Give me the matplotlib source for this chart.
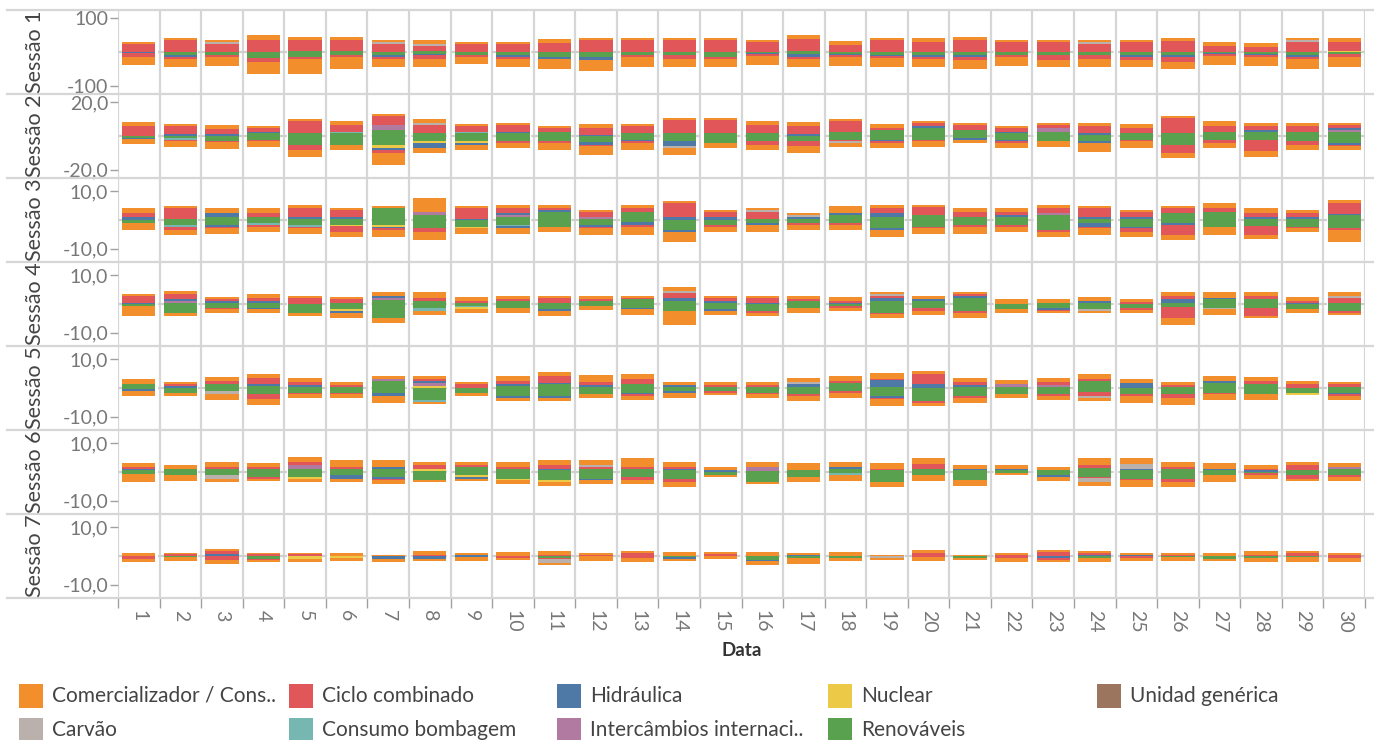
import numpy as np
import matplotlib
matplotlib.use('Agg')
import matplotlib.pyplot as plt
from matplotlib.patches import Rectangle
from matplotlib.lines import Line2D

plt.rcParams['font.family'] = ['Lato', 'DejaVu Sans']

days = list(range(1, 31))
sessions = ['Sessão 1', 'Sessão 2', 'Sessão 3', 'Sessão 4', 'Sessão 5', 'Sessão 6', 'Sessão 7']

# main series, one list of 30 days per session (values above / below zero)
orange_pos = [
    [6, 6, 6, 13, 9, 7, 6, 12, 6, 6, 12, 6, 6, 6, 6, 6, 12, 12, 6, 12, 9, 6, 6, 6, 6, 9, 12, 12, 6, 12],
    [2.4, 1.2, 2.4, 1.2, 1.2, 2.4, 1.2, 2.4, 1.2, 1.2, 1.2, 2.4, 1.2, 1.2, 1.2, 2.4, 2.4, 1.2, 2.4, 1.2, 1.2, 1.2, 1.2, 1.8, 2.4, 1.2, 3.0, 1.8, 1.8, 1.2],
    [1.5, 0.7, 1.7, 1.7, 1.0, 0.7, 0.7, 4.9, 0.7, 1.0, 1.0, 0.7, 1.0, 0.7, 0.7, 0.7, 0.7, 2.4, 1.0, 0.7, 1.4, 1.4, 1.0, 0.7, 0.7, 1.0, 1.7, 1.7, 1.0, 1.0],
    [0.7, 1.0, 0.7, 1.4, 0.7, 0.7, 1.4, 2.1, 1.4, 1.0, 0.7, 1.0, 0.7, 1.4, 0.7, 0.7, 1.0, 1.4, 0.7, 1.0, 0.7, 1.7, 1.4, 1.4, 1.0, 1.4, 2.1, 1.4, 1.4, 1.4],
    [1.7, 0.7, 1.4, 1.4, 1.4, 1.0, 1.0, 1.0, 0.7, 1.7, 1.7, 2.4, 1.7, 1.0, 1.0, 1.0, 1.4, 1.7, 2.1, 1.0, 1.4, 1.4, 1.4, 1.4, 1.4, 1.0, 1.7, 1.4, 1.0, 0.7],
    [1.4, 1.3, 1.7, 1.4, 1.7, 2.4, 2.4, 1.0, 1.0, 1.7, 1.7, 1.7, 3.1, 1.7, 1.0, 1.7, 2.4, 1.7, 2.1, 2.1, 1.4, 1.4, 1.0, 2.4, 2.1, 1.7, 2.1, 1.4, 1.0, 1.4],
    [1.2, 0.6, 0.7, 0.6, 0.6, 1.2, 0.5, 1.4, 0.7, 1.4, 1.4, 0.7, 0.7, 1.4, 0.7, 1.4, 0.7, 1.4, 0.3, 1.0, 0.3, 0.7, 0.7, 0.7, 0.7, 0.7, 1.0, 1.4, 0.7, 0.7],
]
orange_neg = [
    [22, 24, 27, 33, 42, 36, 24, 24, 21, 24, 30, 34, 30, 24, 24, 27, 24, 27, 27, 24, 27, 27, 21, 24, 21, 21, 27, 27, 30, 30],
    [2.8, 3.4, 4.0, 3.6, 4.0, 3.0, 7.2, 3.0, 3.0, 2.8, 4.2, 5.2, 4.2, 4.2, 2.8, 3.0, 4.0, 2.4, 2.8, 3.6, 1.8, 2.8, 3.6, 5.4, 4.0, 3.0, 3.0, 3.6, 3.0, 2.4],
    [2.4, 1.7, 2.1, 1.7, 2.1, 1.7, 2.4, 2.8, 2.1, 2.1, 1.7, 2.4, 2.8, 3.5, 1.7, 2.4, 1.7, 1.7, 2.4, 2.1, 2.4, 1.7, 1.7, 2.4, 1.7, 1.7, 2.8, 1.4, 1.4, 4.2],
    [3.4, 0.7, 1.4, 1.4, 0.7, 1.4, 1.7, 1.4, 1.4, 1.7, 1.7, 1.4, 2.1, 4.9, 1.4, 1.0, 1.7, 1.0, 1.4, 1.4, 1.7, 1.4, 0.7, 0.7, 1.0, 2.4, 2.1, 0.7, 1.4, 0.7],
    [1.7, 1.0, 2.1, 2.1, 1.4, 1.4, 2.4, 0.7, 1.0, 1.0, 1.0, 1.4, 1.4, 1.7, 0.7, 1.4, 1.7, 1.7, 2.4, 1.0, 1.7, 1.4, 1.4, 1.0, 2.4, 2.4, 2.1, 2.1, 0.0, 1.4],
    [2.9, 2.1, 1.0, 0.7, 1.0, 1.0, 1.4, 0.7, 0.7, 1.4, 1.4, 1.4, 1.4, 1.7, 0.7, 0.7, 1.7, 2.1, 1.7, 2.1, 2.1, 0.7, 1.4, 1.4, 2.4, 1.7, 2.4, 1.4, 0.7, 1.4],
    [1.2, 1.4, 1.3, 0.7, 1.0, 1.0, 1.0, 0.7, 1.4, 0.7, 0.7, 1.7, 1.4, 0.7, 1.2, 1.4, 2.1, 1.2, 0.7, 1.4, 0.7, 1.4, 0.7, 1.4, 1.0, 1.4, 0.7, 1.4, 1.7, 1.4],
]
red_pos = [
    [23, 35, 23, 35, 32, 32, 23, 14, 23, 23, 27, 35, 35, 35, 35, 29, 35, 20, 35, 29, 35, 29, 29, 23, 29, 32, 17, 14, 29, 26],
    [6.0, 4.8, 3.0, 2.4, 7.2, 4.2, 5.4, 4.8, 3.6, 4.2, 2.4, 4.2, 4.2, 7.8, 7.8, 4.8, 4.8, 6.6, 1.2, 1.8, 3.0, 2.4, 1.8, 4.2, 3.0, 9.0, 3.6, 2.4, 3.6, 1.8],
    [1.6, 3.8, 0, 1.4, 3.1, 2.4, 0, 0, 3.8, 1.7, 0.7, 1.7, 1.4, 4.9, 1.7, 2.4, 0, 0, 1.7, 2.8, 1.7, 1.0, 1.7, 3.1, 1.7, 1.4, 1.4, 1.4, 1.4, 3.8],
    [2.3, 1.7, 0.7, 1.0, 2.1, 1.4, 0, 1.0, 0.7, 0.7, 1.7, 0.7, 0.3, 1.7, 1.0, 1.7, 0.7, 0.7, 0.7, 0, 0.7, 0, 0, 0, 0.7, 1.0, 0, 1.0, 0.7, 1.7],
    [0, 0.7, 1.0, 2.1, 1.0, 0.7, 0, 0.7, 1.4, 1.0, 2.4, 1.0, 1.7, 0, 0.7, 0.7, 0, 0.7, 0.3, 3.5, 1.0, 0, 1.0, 1.0, 0, 0.7, 0, 1.0, 1.4, 1.0],
    [0.7, 0, 0.7, 0.7, 1.0, 0.7, 0, 1.4, 0.7, 0.7, 1.4, 0.7, 0.7, 0.7, 0, 0, 0, 0, 0.3, 1.7, 0, 0, 0, 1.0, 0, 0.7, 0, 0.3, 1.7, 0],
    [0, 0.6, 1.0, 0.6, 0.6, 0, 0, 0.5, 0, 0, 0.3, 0.3, 1.0, 0, 0.6, 0, 0, 0, 0, 1.0, 0, 0.3, 1.4, 0.7, 0, 0.3, 0, 0.3, 1.0, 0.3],
]
red_neg = [
    [12, 7, 6, 14, 7, 6, 7, 12, 6, 6, 0, 0, 6, 12, 6, 6, 6, 6, 6, 6, 9, 6, 15, 12, 9, 15, 6, 6, 6, 9],
    [0, 0.6, 0.6, 0.6, 3.0, 0, 1.6, 0, 0, 1.2, 1.2, 0.6, 1.2, 0, 0, 2.4, 3.0, 0.6, 1.2, 0.6, 0, 1.2, 0, 0, 0.6, 4.8, 1.8, 6.6, 2.4, 0.6],
    [0, 1.0, 0.3, 0.7, 0.3, 2.1, 0.7, 1.4, 0, 0, 0, 0.3, 0.7, 0, 0.7, 0, 0.7, 0.7, 0, 0.3, 0.7, 0.7, 0.7, 0.3, 1.4, 3.5, 0, 3.1, 0.3, 0.7],
    [0, 0.3, 0.3, 0, 0, 0.3, 0, 0, 0, 0, 0, 0, 0, 0, 0, 0.7, 0, 0.7, 0.3, 1.0, 0.7, 0, 0.3, 0, 0.7, 3.8, 0, 2.8, 0, 0.7],
    [0, 0, 0, 1.7, 0.3, 0.3, 0, 0, 0, 0, 0, 0, 0.7, 0, 0.7, 0.3, 0.7, 0.7, 0.3, 0.7, 0.7, 0, 0.7, 1.4, 0.7, 1.4, 0.3, 0, 0, 0.7],
    [0, 0, 0, 0.7, 0, 0, 0.3, 0, 0, 0, 0, 0, 1.0, 1.0, 0, 0, 0, 0, 0, 0, 0, 0, 0, 0.3, 0.3, 1.0, 0, 0.7, 1.4, 0.7],
    [1.0, 0, 1.4, 0.3, 0, 0, 0, 0, 0, 0.7, 0.3, 0, 0.7, 0, 0, 0, 0, 0, 0, 0.3, 0, 0.7, 0.7, 0, 0.7, 0, 0, 0, 0, 0.7],
]
green_pos = [
    [0, 0, 0, 0, 3, 3, 0, 3, 0, 0, 0, 0, 0, 0, 0, 0, 3, 0, 0, 0, 0, 0, 0, 0, 0, 0, 0, 0, 0, 0],
    [0, 0, 0, 1.6, 1.6, 1.6, 3.6, 1.6, 1.8, 1.8, 2.4, 0, 1.8, 1.8, 1.8, 1.8, 0, 2.4, 3.6, 4.8, 3.6, 1.8, 2.4, 0.6, 1.8, 1.8, 2.4, 2.4, 2.4, 2.4],
    [0, 0.3, 1.0, 1.0, 0.3, 0.3, 4.2, 1.7, 0, 1.0, 2.8, 0.3, 2.8, 0, 0, 0.3, 0.3, 1.7, 1.0, 1.7, 1.0, 1.0, 1.7, 0.3, 0.3, 2.4, 2.8, 0.3, 0.3, 1.7],
    [0, 0.3, 0.3, 0.3, 0, 0.3, 1.4, 1.0, 0.3, 1.0, 0.3, 1.0, 1.7, 1.0, 0.3, 0, 1.0, 0, 1.0, 1.0, 2.1, 0, 0.3, 0.3, 0, 0.3, 1.7, 1.7, 0, 0.3],
    [1.3, 0, 1.3, 0.6, 0.3, 0.3, 2.3, 0, 0, 0.6, 1.3, 0.3, 1.3, 0.3, 0.3, 0.3, 0.3, 1.6, 0.3, 0, 0.3, 0.3, 0.3, 2.3, 0, 0.3, 1.6, 1.3, 0, 0.3],
    [0.6, 1.0, 1.0, 1.0, 1.0, 1.0, 1.0, 0.3, 1.7, 1.0, 0.7, 1.0, 1.0, 0.7, 0, 0.3, 0.7, 1.0, 0.7, 1.0, 0.7, 0.7, 0.7, 1.4, 0.7, 1.0, 0.7, 0, 0.7, 1.0],
    [0] * 30,
]
green_neg = [
    [0, 10, 10, 17, 15, 10, 10, 5, 10, 10, 16, 16, 10, 10, 16, 3, 5, 7, 8, 10, 10, 10, 10, 10, 10, 10, 3, 7, 10, 7],
    [1.2, 1.2, 3.0, 2.4, 5.4, 5.4, 5.4, 3.0, 3.0, 3.0, 3.0, 3.6, 2.4, 3.0, 4.2, 3.0, 3.0, 2.4, 2.4, 2.4, 1.2, 2.4, 3.0, 3.0, 2.4, 5.4, 2.4, 2.4, 3.0, 4.2],
    [1.0, 1.7, 1.7, 1.0, 1.7, 1.7, 1.7, 2.8, 2.4, 1.7, 2.4, 1.7, 0.7, 3.5, 1.7, 1.0, 1.0, 1.0, 2.8, 2.4, 1.7, 1.7, 3.5, 1.0, 2.4, 1.0, 2.4, 2.1, 2.4, 2.8],
    [0.7, 3.0, 1.3, 1.3, 3.0, 1.6, 4.8, 1.3, 0.7, 1.4, 1.7, 0.7, 1.4, 2.4, 1.7, 2.4, 1.4, 0.7, 3.1, 1.4, 2.4, 1.7, 1.4, 1.7, 1.4, 1.0, 1.4, 1.4, 1.7, 2.4],
    [0.5, 1.9, 1.2, 2.2, 1.9, 1.9, 1.9, 4.0, 1.7, 2.9, 2.9, 2.2, 1.9, 1.2, 1.2, 1.9, 2.2, 1.2, 2.9, 4.6, 2.9, 2.2, 2.2, 1.5, 2.2, 2.2, 1.9, 2.2, 1.7, 1.9],
    [0.6, 1.0, 1.0, 1.7, 1.7, 1.0, 1.7, 2.8, 1.0, 2.4, 2.8, 2.4, 1.7, 2.4, 1.0, 3.5, 1.7, 0.3, 3.5, 1.0, 2.8, 0.4, 1.0, 1.7, 2.4, 2.4, 1.0, 0.3, 1.0, 1.0],
    [0, 0.3, 0, 1.0, 0, 0, 0, 0, 0, 0, 0.7, 0, 0, 0.3, 0, 1.4, 0.7, 0.6, 0, 0, 0.7, 0, 0, 0.7, 0, 0.3, 1.0, 0.7, 0.3, 0],
]
blue_pos = [
    [0] * 30,
    [0, 1.2, 1.2, 0.6, 0, 0, 0, 0, 0, 0.6, 0, 0.6, 0, 0, 0, 0, 1.2, 0, 0, 1.2, 0, 0.6, 0, 1.2, 0, 0, 0, 1.2, 0, 1.2],
    [1.0, 0, 1.4, 0, 0.7, 0.7, 0, 0, 0.3, 0.7, 0.7, 0, 0, 1.0, 1.0, 0, 0.7, 0.7, 1.4, 0, 0, 0.7, 0, 0.7, 0.7, 0.2, 0, 0.7, 0.7, 0.3],
    [0.5, 0.7, 0.7, 0.7, 0, 0, 0.7, 0, 0, 0, 0, 0, 0, 1.0, 0.7, 0.3, 0, 0.3, 1.0, 0.7, 0.7, 0, 0, 0.7, 0, 1.4, 0.3, 0, 0.3, 0],
    [0, 0.7, 0, 0.7, 0.7, 0, 0, 0.7, 0, 0.7, 0.3, 0.7, 0, 0.7, 0, 0, 1.0, 0, 2.4, 1.3, 0.7, 0, 0, 0, 1.6, 0, 0.7, 0, 0, 0],
    [0.4, 0, 0, 0, 0, 0, 0.7, 0, 0, 0, 0.3, 0, 0, 0.3, 0.7, 0, 0, 0.7, 0, 0, 0.3, 0.3, 0, 0, 0.3, 0, 0.3, 0.7, 0, 0],
    [0, 0, 0.6, 0, 0, 0, 0, 0, 0.3, 0, 0, 0, 0, 0, 0, 0, 0.3, 0, 0, 0, 0, 0, 0, 0.3, 0.3, 0, 0, 0, 0, 0],
]
blue_neg = [
    [4, 4, 0, 0, 0, 0, 5, 5, 0, 6, 6, 8, 0, 0, 0, 4, 11, 3, 4, 6, 6, 0, 0, 0, 5, 6, 4, 3, 6, 0],
    [0.8, 0, 0, 0, 0, 0, 1.4, 2.8, 1.2, 0, 0, 1.8, 0.6, 3.0, 0, 0, 0, 0, 0.6, 0, 1.2, 0.6, 0, 1.2, 0, 0, 0, 0, 0, 1.2],
    [0, 0, 0.7, 0, 0, 0, 0.3, 0, 0, 0.7, 0, 0.7, 1.0, 0.7, 0, 0.7, 0, 0, 0.7, 0, 0, 0, 0, 1.4, 0.3, 0.7, 0, 0, 0, 0],
    [0, 0, 0, 0.3, 0.3, 0.7, 0, 0, 0, 0, 0.7, 0, 0.3, 0, 0.7, 0, 0, 0, 0, 0, 0, 0, 0.7, 0, 0, 0, 0, 0, 0, 0],
    [0.7, 0, 0, 0, 0, 0, 1.0, 0, 0, 0.7, 0.7, 0, 0.3, 0.7, 0, 0, 0, 0, 0.7, 0, 0, 0, 0, 0, 0, 0, 0, 0, 0, 0.3],
    [0, 0, 0, 0, 0, 1.4, 0.7, 0, 0.7, 0, 0, 0.3, 0, 0, 0, 0, 0, 0, 0, 0, 0, 0, 0.7, 0, 0, 0, 0, 0, 0, 0],
    [0, 0, 0, 0, 0, 0, 1.0, 1.0, 0.3, 0, 0, 0, 0, 0.7, 0, 0.3, 0, 0, 0, 0, 0, 0, 0.7, 0, 0, 0, 0, 0, 0, 0],
]

# small categories, sparse: (session, day) -> signed value
carvao = {(1, 3): 6, (1, 4): 2, (1, 6): 2, (1, 7): 6, (1, 8): 6, (1, 24): 6, (1, 29): 6,
          (2, 8): 1.2, (2, 14): -1.0, (2, 18): -1.2, (3, 16): 0.7, (3, 17): 0.7,
          (4, 14): 0.7, (4, 19): 0.7, (4, 24): -0.7, (4, 27): -0.3, (4, 30): 0.7,
          (5, 3): -1.0, (5, 17): 0.7, (5, 24): -0.7, (6, 3): -1.4, (6, 12): 0.7,
          (6, 24): -1.4, (6, 25): 1.7, (7, 11): -1.4, (7, 19): -0.7}
intercambios = {(2, 7): 3.0, (2, 23): 2.4, (2, 30): 1.2, (3, 8): 1.0, (3, 10): 0.7, (3, 12): 0.7,
                (3, 23): 0.7, (4, 2): 0.7, (4, 7): 0.7, (5, 7): 0.7, (5, 8): 1.0, (5, 22): 1.0,
                (5, 23): 0.7, (6, 5): 1.4, (6, 16): 1.4, (6, 30): 0.7}
nuclear = {(1, 30): 3, (2, 7): -1.6, (2, 8): -1.2, (2, 9): -1.2, (3, 6): -0.3, (3, 7): -0.7,
           (3, 9): -0.3, (4, 6): -0.7, (4, 9): -0.7, (5, 8): 0.6, (5, 29): -0.7, (6, 5): -0.7,
           (6, 8): 0.7, (6, 9): -0.7, (6, 10): -0.3, (6, 11): -0.7, (7, 5): -1.0, (7, 6): -0.7}
bombagem = {(2, 2): -1.4, (2, 6): 0.6, (2, 9): 0.6, (3, 2): -0.7, (3, 4): -0.7, (3, 5): -0.7,
            (3, 10): -0.3, (4, 8): -1.0, (4, 9): -0.3, (5, 8): -0.7, (6, 18): -0.7}

ylims = [125, 25, 14.6, 14.6, 14.6, 14.6, 14.6]
yticks = [100, 20, 10, 10, 10, 10, 10]
ytick_text = ['100', '20,0', '10,0', '10,0', '10,0', '10,0', '10,0']

colors = {
    'orange': '#f28e2b', 'red': '#e15759', 'blue': '#4e79a7', 'yellow': '#edc948',
    'brown': '#9c755f', 'gray': '#bab0ac', 'teal': '#76b7b2', 'purple': '#b07aa1',
    'green': '#59a14f',
}


def sparse_to_arrays(d, s):
    pos = np.zeros(30)
    neg = np.zeros(30)
    for (ss, day), v in d.items():
        if ss == s + 1:
            if v > 0:
                pos[day - 1] += v
            else:
                neg[day - 1] += -v
    return pos, neg


W_FIG, H_FIG = 1374, 740
fig = plt.figure(figsize=(W_FIG / 100, H_FIG / 100), dpi=100)
left, right, top, row_h = 118, 1365, 10, 84
x = np.array(days)

for s in range(7):
    ax = fig.add_axes([left / W_FIG, 1 - (top + row_h * (s + 1)) / H_FIG,
                       (right - left) / W_FIG, row_h / H_FIG])
    gray_p, gray_n = sparse_to_arrays(carvao, s)
    pur_p, pur_n = sparse_to_arrays(intercambios, s)
    yel_p, yel_n = sparse_to_arrays(nuclear, s)
    teal_p, teal_n = sparse_to_arrays(bombagem, s)
    stack = [
        ('green', green_pos[s], green_neg[s]),
        ('teal', teal_p, teal_n),
        ('yellow', yel_p, yel_n),
        ('purple', pur_p, pur_n),
        ('blue', blue_pos[s], blue_neg[s]),
        ('red', red_pos[s], red_neg[s]),
        ('gray', gray_p, gray_n),
        ('orange', orange_pos[s], orange_neg[s]),
    ]
    bp = np.zeros(30)
    bn = np.zeros(30)
    for name, p, n in stack:
        p = np.asarray(p, dtype=float)
        n = np.asarray(n, dtype=float)
        ax.bar(x, p, bottom=bp, width=0.8, color=colors[name], linewidth=0, zorder=3)
        ax.bar(x, -n, bottom=-bn, width=0.8, color=colors[name], linewidth=0, zorder=3)
        bp += p
        bn += n

    ax.axhline(0, color='#cfcfcf', lw=1.6, ls=(0, (4, 2)), zorder=1)
    for b in np.arange(0.5, 31, 1):
        ax.axvline(b, color='#d6d6d6', lw=1.6, zorder=0)
    ax.set_xlim(0.5, 30.5)
    ax.set_ylim(-ylims[s], ylims[s])
    ax.set_yticks([-yticks[s], yticks[s]])
    ax.set_yticklabels(['-' + ytick_text[s], ytick_text[s]])
    ax.tick_params(axis='y', direction='out', length=6, width=1, color='#a0a0a0',
                   labelcolor='#777777', labelsize=14, pad=1)
    for sp in ax.spines.values():
        sp.set_visible(False)
    ax.set_facecolor('none')
    if s < 6:
        ax.set_xticks([])
    else:
        ax.set_xticks(x)
        ax.set_xticklabels([str(d) for d in days], rotation=-90, fontsize=14,
                           color='#777777')
        ax.tick_params(axis='x', length=0, pad=9)
        ax.set_xticks(np.arange(0.5, 31, 1), minor=True)
        ax.tick_params(axis='x', which='minor', length=7, width=1, color='#a0a0a0')

    yc = 1 - (top + row_h * (s + 0.5)) / H_FIG
    fig.text(35 / W_FIG, yc, sessions[s], rotation=90, ha='center', va='center',
             fontsize=15.5, color='#444444')

# row separators
for k in range(8):
    yy = 1 - (top + row_h * k) / H_FIG
    fig.add_artist(Line2D([7 / W_FIG, 1], [yy, yy], color='#d6d6d6', lw=1.6))

fig.text(742 / W_FIG, 1 - 650 / H_FIG, 'Data', ha='center', va='center',
         fontsize=13.5, color='#333333', fontweight='bold')

legend_labels = ['Comercializador / Cons..', 'Ciclo combinado', 'Hidráulica', 'Nuclear',
                 'Unidad genérica', 'Carvão', 'Consumo bombagem', 'Intercâmbios internaci..',
                 'Renováveis']
legend_colors = ['orange', 'red', 'blue', 'yellow', 'brown', 'gray', 'teal', 'purple', 'green']
col_x = [19, 289, 557, 828, 1097]
row_y = [696, 730]
for i, (lab, c) in enumerate(zip(legend_labels, legend_colors)):
    r, cc = divmod(i, 5)
    x0 = col_x[cc]
    y0 = row_y[r]
    fig.add_artist(Rectangle((x0 / W_FIG, 1 - (y0 + 12) / H_FIG), 24 / W_FIG, 24 / H_FIG,
                             facecolor=colors[c], edgecolor='none'))
    fig.text((x0 + 33) / W_FIG, 1 - y0 / H_FIG, lab, ha='left', va='center',
             fontsize=15, color='#444444')

fig.savefig('out.png', dpi=100)
